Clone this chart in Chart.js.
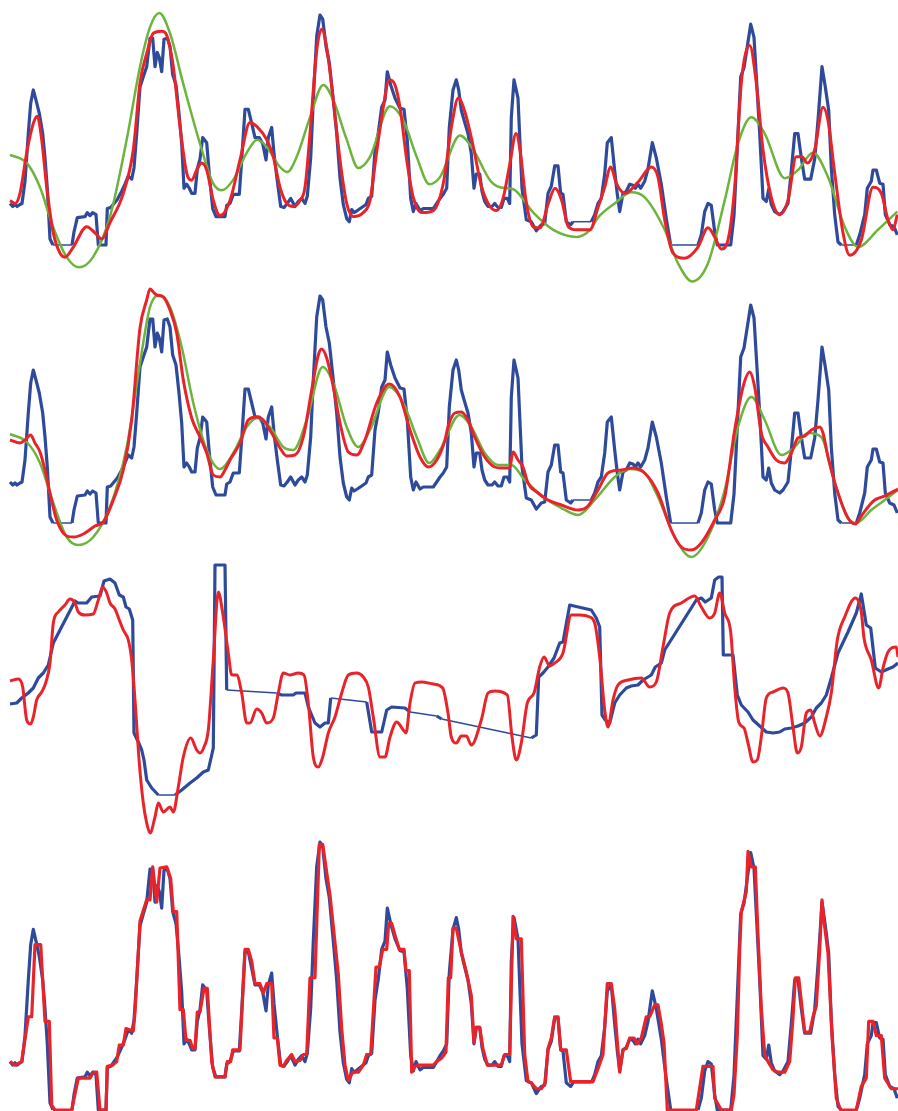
<!DOCTYPE html>
<html>
<head>
<meta charset="utf-8">
<script src="https://cdn.jsdelivr.net/npm/chart.js@4/dist/chart.umd.min.js"></script>
<style>
  body { margin: 0; background: #fff; }
  canvas { position: absolute; left: 0; top: 0; }
</style>
</head>
<body>
<canvas id="p1" width="898" height="1111"></canvas>
<canvas id="p2" width="898" height="1111"></canvas>
<canvas id="p3" width="898" height="1111"></canvas>
<canvas id="p4" width="898" height="1111"></canvas>
<script>
// measured signal (shared by panels 1, 2 and 4), null = missing samples
var sigT = [10, 12.7, 15, 17, 20, 22, 25, 28.3, 30.7, 33.3, 36, 39.3, 42.7, 45, 47.3, 50, 53, 62, 72, 74, 77.3, 85, 87.3, 90, 92.7, 96, 98.3, 106, 107.3, 110.7, 114, 117.3, 121.7, 125, 128.3, 131.7, 134, 136.7, 140, 143.3, 146.7, 150, 152.7, 155, 157.3, 159.3, 161.7, 164, 167.3, 170, 172.7, 176, 179, 181.7, 184, 186.7, 189.3, 191.7, 195, 197.3, 200, 202.7, 206.7, 209.3, 212.7, 216, 225, 226.7, 230, 233.3, 239.3, 241.7, 245, 248.3, 251.7, 255, 259.3, 262.7, 266, 268.3, 271.7, 274, 277.3, 280.7, 284, 287.3, 290.7, 295, 298.3, 301.7, 305, 307.3, 310.7, 313.3, 316.7, 320, 322.7, 326, 329.3, 333.3, 336.7, 340, 343.3, 346.7, 349.3, 351.7, 354, 357.3, 361.7, 366, 368.3, 371.7, 375, 378.3, 381.7, 385, 387.3, 390.7, 395, 400, 404, 407.3, 410.7, 413.3, 416, 420, 423.3, 433.3, 436.7, 440, 443.3, 446.7, 449.3, 453, 456.3, 458.7, 461.3, 464.7, 468, 471.3, 474, 476.3, 479.7, 482, 484.7, 488, 492, 494.7, 498, 501.3, 504, 507.3, 509.7, 511.3, 514, 518, 522, 526.3, 531.3, 536.3, 541.3, 544.7, 548, 551.3, 554.7, 558, 560.7, 563, 566.3, 570.7, 573, 582, 591.3, 594.7, 598, 601.3, 604.7, 607.3, 611.3, 614.7, 617.3, 619.7, 623, 626.3, 629.7, 633, 635.3, 638, 640.7, 644.7, 648, 652.3, 656.3, 661.3, 666.3, 670.7, 684, 698, 701.3, 704.7, 708, 711.3, 714.7, 717.3, 730.7, 734, 737.3, 740.7, 744, 747.3, 750.7, 754, 757.3, 759.7, 763, 766.3, 768.7, 771.3, 774.7, 779.7, 783, 788, 791.3, 794.7, 798, 801.3, 804.7, 810.7, 814.7, 818, 822, 825.3, 828.7, 831.3, 834.7, 838, 841.3, 849, 856.3, 859.7, 864.7, 867.3, 871.3, 873, 876.3, 879.7, 883, 885.3, 889.7, 894, 897.3];
var sigV = [41, 38, 40, 38, 40, 41, 63, 110, 140, 153, 143, 130, 110, 86, 56, 6, 0, null, 0, 13, 27, 28, 32, 29, 32, 30, 0, 0, 36, 37, 41, 45, 53, 60, 68, 65, 76, 110, 156, 166, 176, 204, 204, 176, 190, 185, 171, 203, 204, 196, 168, 158, 130, 100, 56, 60, 56, 51, 51, 75, 85, 106, 101, 70, 36, 28, 28, 39, 41, 50, 50, 84, 134, 134, 120, 106, 106, 100, 84, 106, 116, 90, 63, 38, 37, 41, 46, 38, 43, 46, 41, 48, 86, 143, 206, 227, 223, 196, 180, 143, 110, 66, 40, 26, 23, 35, 32, 34, 37, 40, 46, 48, 93, 111, 136, 143, 171, 158, 145, 135, 134, 103, 46, 33, 41, 34, 36, 36, 41, 46, 50, 56, 116, 153, 163, 153, 133, 121, 110, 90, 56, 70, 70, 53, 43, 38, 38, 41, 37, 37, 46, 46, 41, 126, 163, 145, 56, 25, 23, 14, 20, 21, 51, 58, 78, 78, 51, 50, 23, 20, 23, null, 23, 30, 41, 46, 70, 101, 106, 73, 50, 33, 51, 53, 60, 59, 56, 60, 56, 63, 75, 101, 86, 60, 26, 0, null, 0, 10, 33, 41, 39, 13, 0, 0, 29, 96, 166, 175, 196, 218, 205, 150, 110, 46, 43, 55, 40, 33, 30, 33, 41, 73, 110, 110, 86, 65, 65, 85, 123, 176, 156, 133, 76, 30, 3, 0, null, 0, 10, 30, 56, 63, 74, 74, 61, 60, 30, 20, 18, 10];

// panel 1 fits
var p1RedT = [10, 15, 20, 26.7, 33.3, 37.3, 41.7, 46.7, 53.3, 60, 65, 73.3, 86.7, 95, 101.7, 110, 123.3, 133.3, 140, 146.7, 153.3, 161.7, 166.7, 173.3, 180, 186.7, 191.7, 196.7, 201.7, 206.7, 213.3, 220, 230, 240, 250, 256.7, 266.7, 273.3, 280, 286.7, 293.3, 300, 305, 310, 316.7, 321.7, 326.7, 333.3, 340, 346.7, 353.3, 363.3, 370, 376.7, 383.3, 389.3, 395, 400, 406.7, 413.3, 421.7, 433.3, 443.3, 451.7, 458.3, 465, 473.3, 481.7, 490, 496.7, 503.3, 510, 516, 520, 526, 533.3, 540, 548.3, 555, 561.7, 568.3, 576.7, 590, 598, 604.7, 610.7, 616.3, 624.7, 638, 651.3, 658, 664.7, 673, 684.7, 698, 708, 714.7, 721.3, 728, 734.7, 741.3, 749.7, 756.3, 763, 771.3, 779.7, 788, 796.3, 802, 807.3, 814.7, 823, 828, 834.7, 843, 849.7, 861.3, 873, 881.3, 888, 893, 897.3];
var p1RedV = [44, 41, 51, 91, 120, 127, 104, 57, 12, -8, -12, -2, 18, 12, 6, 22, 51, 94, 160, 189, 209, 211, 207, 176, 117, 71, 64, 74, 81, 74, 44, 29, 44, 84, 121, 117, 104, 87, 57, 41, 38, 44, 57, 110, 192, 213, 195, 143, 84, 41, 28, 32, 44, 92, 136, 163, 158, 136, 84, 47, 32, 34, 61, 118, 145, 131, 97, 57, 38, 34, 47, 81, 110, 94, 44, 18, 17, 41, 56, 44, 18, 15, 15, 37, 57, 77, 61, 51, 62, 77, 67, 25, -8, -13, -2, 17, 8, -4, 5, 57, 160, 197, 160, 94, 47, 30, 44, 87, 87, 81, 94, 136, 123, 71, 12, -10, 5, 57, 51, 25, 15, 30];
var p1GreenT = [10, 26.7, 40, 53, 66.7, 79, 93, 110, 126.7, 140, 150, 159.3, 170, 183, 200, 213, 221.7, 233, 246.7, 257.3, 266.7, 280, 287.3, 296.7, 310, 323.3, 333.3, 346.7, 358.3, 370, 390, 403.3, 416.7, 429.3, 440, 460, 473.3, 490, 500, 513.3, 533.3, 553.3, 576.7, 590, 598, 614.7, 631.3, 644.7, 664.7, 678, 692, 708, 724.7, 738, 751.3, 764.7, 784.7, 798, 813, 828, 844.7, 858, 878, 897.3];
var p1GreenV = [89, 81, 57, 18, -12, -22, -12, 28, 104, 176, 215, 229, 209, 160, 100, 61, 54, 64, 91, 104, 97, 77, 72, 87, 126, 158, 143, 104, 76, 87, 137, 123, 87, 60, 67, 108, 94, 64, 57, 55, 32, 15, 8, 15, 27, 41, 52, 47, 15, -18, -36, -18, 44, 100, 126, 110, 66, 74, 91, 67, 18, -2, 15, 33];

// panel 2 fits
var p2RedT = [10, 20, 25, 30.7, 35, 40, 45, 50, 56.7, 66.7, 73.3, 83.3, 95, 103.3, 113.3, 123.3, 131.7, 140, 146.7, 150, 153.3, 156.7, 163.3, 170, 176.7, 183.3, 191.7, 200, 206.7, 213.3, 220, 225, 230, 240, 248.3, 256.7, 263.3, 271.7, 280, 286.7, 295, 303.3, 311.7, 318.3, 321.7, 326.7, 333.3, 340, 348.3, 356.7, 365, 376.7, 389.3, 400, 410, 420, 428.3, 436.7, 445, 448, 454.7, 461.3, 468, 474.7, 484.7, 494.7, 501.3, 509.7, 513, 518, 523, 528, 538, 548, 561.3, 578, 588, 598, 608, 621.3, 633, 644.7, 658, 671.3, 681.3, 691.3, 701.3, 714.7, 724.7, 734.7, 743, 749.7, 754.7, 761.3, 768, 776.3, 784.7, 791.3, 798, 804.7, 811.3, 819.7, 823, 828, 838, 848, 855.3, 861.3, 868, 874.7, 884.7, 898];
var p2RedV = [83, 80, 83, 88, 80, 71, 53, 30, 3, -13, -14, -11, -3, 1, 23, 53, 103, 195, 223, 234, 231, 228, 226, 213, 190, 143, 105, 86, 70, 48, 46, 53, 63, 80, 103, 106, 103, 90, 75, 67, 68, 86, 133, 168, 174, 165, 136, 100, 71, 68, 83, 120, 139, 126, 93, 66, 56, 63, 83, 96, 110, 111, 103, 86, 66, 56, 55, 55, 71, 63, 56, 40, 30, 23, 18, 13, 17, 33, 50, 53, 55, 50, 30, -7, -24, -27, -20, 3, 26, 93, 136, 151, 136, 90, 76, 63, 60, 70, 85, 87, 93, 96, 90, 66, 30, 5, -1, 7, 16, 23, 27, 34];
var p2GreenT = [10, 26.7, 40, 53.3, 66.7, 78.3, 93.3, 110, 126.7, 140, 150, 159.3, 170, 181.7, 193.3, 206.7, 220, 233.3, 246.7, 257.3, 270, 283.3, 293.3, 306.7, 322.7, 333.3, 346.7, 358.3, 370, 389.3, 403.3, 416.7, 429.3, 440, 459.7, 471.3, 484.7, 498, 511.3, 524.7, 544.7, 561.3, 578, 594.7, 614.7, 629.7, 644.7, 658, 674.7, 691.3, 708, 724.7, 738, 751.3, 764.7, 781.3, 794.7, 808, 821.3, 834.7, 848, 856.3, 871.3, 884.7, 898];
var p2GreenV = [89, 81, 60, 20, -14, -22, -14, 16, 76, 160, 216, 228, 216, 176, 120, 73, 54, 70, 96, 105, 96, 76, 73, 103, 156, 140, 96, 76, 93, 136, 120, 86, 60, 73, 108, 96, 70, 58, 58, 43, 25, 15, 8, 23, 46, 54, 50, 26, -14, -34, -14, 33, 96, 126, 103, 68, 76, 90, 86, 40, 5, 0, 13, 23, 33];

// panel 3: second signal and its fit
var p3BlueT = [10, 16.7, 21.7, 28.3, 33.3, 38.3, 43.3, 48.3, 53.3, 75, 78.3, 86.7, 91.7, 100, 104, 110, 115, 119.3, 123.3, 126, 129.3, 132.7, 134, 138.3, 141.7, 144, 146.7, 151.7, 158.3, 166, 175, 181.7, 190, 196.7, 203.3, 208.3, 213.3, 215, 225, 226.7, 250, 276.7, 281.7, 293.3, 296, 305, 308.3, 315, 320, 325, 328.3, 330.7, 350, 366.7, 371.7, 381.7, 386.7, 391.7, 405, 410, 424, 436.7, 441.7, 490, 531.3, 536.3, 538.7, 543, 548, 554, 559.7, 563, 569.7, 591.3, 596.3, 599.7, 602, 605.3, 609.7, 614.7, 619.7, 626.3, 631.3, 638, 643, 651.3, 655.3, 661.3, 664.7, 696.3, 701.3, 705.3, 711.3, 714.7, 718.7, 722, 723.3, 733, 737.3, 741.3, 748, 753, 759.7, 766.3, 773, 779.7, 784.7, 791.3, 798, 804.7, 811.3, 816.3, 821.3, 826.3, 831.3, 838, 848, 856.3, 861.3, 866.3, 870.7, 875.3, 881.3, 888, 893, 898];
var p3BlueV = [136, 137, 142, 147, 152, 162, 167, 175, 197, 239, 237, 237, 243, 244, 259, 261, 257, 245, 243, 233, 231, 220, 107, 98, 90, 80, 60, 52, 45, null, 45, 50, 57, 62, 68, 70, 92, 275, 275, 150, null, 147, 145, 145, 147, 147, 133, 117, 113, 117, 117, 142, null, 138, 108, 108, 130, 133, 132, 128, null, 124, 121, null, 102, 105, 163, 167, 173, 182, 197, 198, 235, 230, 222, 213, 125, 120, 117, 137, 145, 152, 154, 155, 160, 165, 173, 177, 190, 240, 242, 238, 242, 260, 263, 263, 185, 185, 145, 135, 128, 120, 114, 108, 107, 108, 111, 112, 114, 117, 123, 132, 137, 145, 162, 187, 208, 227, 246, 215, 212, 172, 168, 171, 173, 177];
var p3RedT = [10, 18.3, 22.7, 26.7, 30.7, 33.3, 36.7, 41.7, 46, 50, 53.3, 58.3, 65, 70, 75, 78.3, 85, 93.3, 98.3, 102.7, 106.7, 110, 115, 119.3, 123.3, 128.3, 131.7, 135, 139.3, 143.3, 146.7, 150, 155, 158.3, 163.3, 170, 173.3, 178.3, 183.3, 190.7, 196.7, 200, 204, 208.3, 213.3, 218.3, 222.7, 228.3, 231.7, 236.7, 241.7, 246.7, 250, 256.7, 261.7, 266.7, 273.3, 278.3, 283.3, 290, 298.3, 304, 308.3, 313.3, 318.3, 322.7, 328.3, 335, 341.7, 348.3, 356.7, 363.3, 368.3, 373.3, 380, 385, 390, 396.7, 403.3, 406, 410, 415, 421.7, 433.3, 442.7, 448, 451.3, 456.3, 461.3, 466.3, 471.3, 481.3, 488, 494.7, 507.3, 512, 516.3, 521.3, 527.3, 534, 539.7, 544, 549.7, 554.7, 563, 571.3, 579.7, 589.7, 594.7, 599.7, 604.7, 608, 613, 618, 628, 641.3, 649.7, 656.3, 663, 669.7, 681.3, 694.7, 701.3, 709.7, 714.7, 719.7, 724.7, 730.7, 734.7, 738.7, 744, 748, 753, 757.3, 761.3, 766.3, 773, 783, 788, 793, 797.3, 801.3, 806.3, 810.7, 814.7, 819.7, 826.3, 831.3, 837.3, 844.7, 855.3, 861.3, 864, 871.3, 878.7, 883, 888, 896.3, 898];
var p3RedV = [159, 161, 153, 120, 116, 123, 140, 148, 158, 177, 217, 228, 235, 241, 237, 228, 225, 226, 240, 253, 247, 237, 231, 220, 210, 200, 180, 140, 77, 37, 17, 7, 23, 37, 28, 33, 28, 53, 83, 102, 90, 87, 93, 110, 180, 248, 227, 187, 165, 165, 147, 117, 117, 131, 127, 117, 122, 147, 167, 165, 167, 165, 137, 83, 73, 83, 107, 123, 147, 165, 167, 163, 153, 123, 83, 83, 103, 118, 110, 107, 137, 157, 158, 156, 152, 127, 103, 97, 104, 104, 95, 120, 147, 149, 145, 103, 80, 97, 137, 147, 173, 183, 174, 177, 187, 225, 225, 223, 217, 183, 130, 113, 140, 155, 160, 162, 153, 158, 193, 227, 237, 244, 233, 222, 227, 247, 227, 208, 153, 118, 112, 97, 78, 80, 103, 142, 148, 152, 147, 113, 87, 93, 127, 130, 117, 104, 123, 147, 200, 223, 242, 228, 202, 180, 152, 172, 188, 193, 183];

// panel 4: reconstruction of the measured signal
var p4RedT = [10, 15, 21.7, 28.3, 31.7, 35, 40.7, 45, 49.3, 51.7, 55, 71.7, 78.3, 90, 93.3, 96.7, 100, 106, 107.3, 112.7, 116.7, 119.3, 123.3, 126, 133.3, 135, 140, 146.7, 150, 152.7, 156.7, 160, 166.7, 170.7, 173.3, 176.7, 180, 183.3, 186, 190, 192.7, 195, 197.3, 200, 204, 207.3, 211.7, 215, 225, 227.3, 230.7, 232.7, 240, 245, 248.3, 251.7, 255, 260, 263.3, 266.7, 271.7, 274, 277.3, 280, 283.3, 286.7, 291.7, 295, 300, 303.3, 306.7, 310, 315, 319.3, 322.7, 330, 338.3, 341.7, 345, 348.3, 352.7, 358.3, 363.3, 366.7, 370.7, 376, 379.3, 382.7, 386.7, 388.7, 391.7, 395, 399.3, 404, 406, 409.3, 411.7, 415, 420, 433.3, 436.7, 441.7, 446, 448.3, 450.7, 453, 456.3, 461.3, 466.3, 471.3, 474, 476.3, 479.7, 483, 487.3, 489.7, 501.3, 504.7, 509.7, 513, 516.3, 521.3, 524.7, 528, 531.3, 536.3, 541.3, 545.3, 548, 551.3, 554.7, 558, 560.7, 566.3, 570.7, 593, 598, 603, 607.3, 611.3, 614.7, 619.7, 623, 626.3, 629.7, 634, 637.3, 641.3, 646.3, 649.7, 654.7, 658, 661.3, 664, 667.3, 696.3, 703, 713, 714.7, 721.3, 731.3, 734, 737.3, 739.7, 741.3, 746.3, 748, 751.3, 755.3, 758, 761.3, 764.7, 768, 773, 778, 784.7, 789.7, 793, 795.3, 798.7, 804.7, 809.7, 813, 816.3, 819.7, 822, 824, 828, 832, 836.3, 840.7, 856.3, 861.3, 866.3, 868.7, 873, 876.3, 881.3, 884.7, 891.3, 898];
var p4RedV = [41, 38, 41, 79, 79, 140, 140, 75, 75, 4, 0, 0, 27, 27, 32, 32, 0, 0, 37, 38, 41, 55, 55, 69, 67, 83, 160, 178, 178, 206, 176, 205, 206, 196, 168, 168, 85, 85, 59, 59, 52, 52, 83, 83, 103, 103, 41, 28, 28, 41, 41, 51, 51, 136, 136, 126, 107, 107, 99, 107, 107, 61, 61, 38, 37, 42, 47, 41, 42, 47, 47, 112, 112, 225, 225, 182, 115, 69, 38, 25, 32, 32, 38, 47, 47, 121, 121, 136, 136, 158, 158, 148, 136, 136, 118, 118, 32, 37, 38, 38, 41, 44, 49, 112, 112, 154, 154, 134, 117, 97, 57, 70, 70, 52, 38, 38, 38, 47, 47, 164, 145, 145, 47, 24, 23, 18, 18, 23, 52, 61, 79, 79, 51, 51, 24, 24, 35, 47, 107, 107, 86, 32, 51, 52, 61, 61, 56, 61, 79, 79, 89, 89, 73, 57, 0, 0, 37, 37, 10, 0, 0, 13, 63, 136, 168, 185, 219, 206, 206, 148, 86, 47, 41, 34, 32, 32, 41, 78, 112, 112, 66, 66, 79, 88, 136, 178, 160, 133, 63, 10, 0, 0, 20, 27, 75, 75, 63, 63, 27, 18, 18];

var BLUE = '#2e4b9b';
var RED = '#e8242a';
var GREEN = '#6cb43e';

function pairs(ts, vs) {
    return ts.map(function (t, i) { return { x: t, y: vs[i] }; });
}

// thin line where samples are missing
function gapWidth(ctx) {
    return (ctx.p0.skip || ctx.p1.skip) ? 1.5 : undefined;
}

function blueSet(ts, vs) {
    return {
        data: pairs(ts, vs), borderColor: BLUE, borderWidth: 3.2, tension: 0,
        spanGaps: true, segment: { borderWidth: gapWidth }, borderJoinStyle: 'round', order: 3
    };
}

function curveSet(ts, vs, color, width, order) {
    return {
        data: pairs(ts, vs), borderColor: color, borderWidth: width,
        cubicInterpolationMode: 'monotone', borderJoinStyle: 'round', order: order
    };
}

function makeChart(id, floorPx, pxPerUnit, datasets) {
    var ctx = document.getElementById(id).getContext('2d');
    return new Chart(ctx, {
        type: 'line',
        data: { datasets: datasets },
        options: {
            responsive: false,
            animation: false,
            devicePixelRatio: 1,
            layout: { padding: 0 },
            plugins: { legend: { display: false }, tooltip: { enabled: false } },
            elements: { point: { radius: 0 } },
            scales: {
                x: { type: 'linear', display: false, min: 0, max: 898 },
                y: { type: 'linear', display: false, min: -(1111 - floorPx) / pxPerUnit, max: floorPx / pxPerUnit }
            }
        }
    });
}

makeChart('p1', 245, 230 / 227, [
    curveSet(p1RedT, p1RedV, RED, 3, 1),
    curveSet(p1GreenT, p1GreenV, GREEN, 2.5, 2),
    blueSet(sigT, sigV)
]);

makeChart('p2', 523, 1, [
    curveSet(p2RedT, p2RedV, RED, 3, 1),
    curveSet(p2GreenT, p2GreenV, GREEN, 2.5, 2),
    blueSet(sigT, sigV)
]);

makeChart('p3', 840, 1, [
    curveSet(p3RedT, p3RedV, RED, 3, 1),
    blueSet(p3BlueT, p3BlueV)
]);

makeChart('p4', 1110, 268 / 227, [
    { data: pairs(p4RedT, p4RedV), borderColor: RED, borderWidth: 3.2, tension: 0, borderJoinStyle: 'round', order: 1 },
    blueSet(sigT, sigV)
]);
</script>
</body>
</html>
